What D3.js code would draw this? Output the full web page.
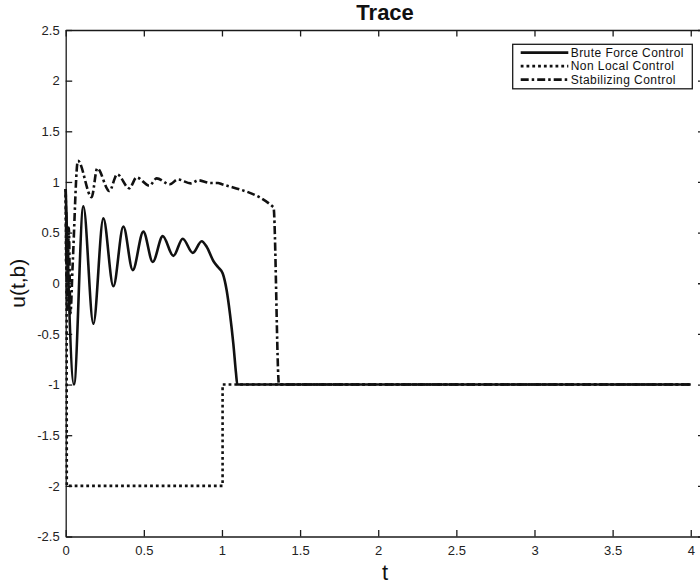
<!DOCTYPE html>
<html>
<head>
<meta charset="utf-8">
<script src="https://cdn.jsdelivr.net/npm/d3@7"></script>
<style>
  html, body { margin: 0; padding: 0; background: #fff; }
  svg { display: block; font-family: "Liberation Sans", Arial, Helvetica, sans-serif; }
</style>
</head>
<body>
<svg id="chart" width="700" height="585"></svg>
<script>
// Trace of u(t,b) for three control strategies
const xTicks = [0, 0.5, 1, 1.5, 2, 2.5, 3, 3.5, 4];
const yTicks = [-2.5, -2, -1.5, -1, -0.5, 0, 0.5, 1, 1.5, 2, 2.5];
const seriesNames = ["Brute Force Control", "Non Local Control", "Stabilizing Control"];

const bruteT = [0, 0.053, 0.113, 0.177, 0.241, 0.305, 0.369, 0.429, 0.497, 0.557, 0.621, 0.689, 0.749, 0.813, 0.870, 0.902, 0.945, 0.977, 1.005, 1.03, 1.051, 1.073, 1.09, 1.098, 4.0];
const bruteU = [0.93, -1.0, 0.76, -0.40, 0.64, -0.03, 0.56, 0.13, 0.51, 0.21, 0.465, 0.27, 0.44, 0.30, 0.415, 0.36, 0.22, 0.155, 0.096, -0.07, -0.30, -0.60, -0.89, -1.0, -1.0];

const nonLocalT = [0, 0.002, 0.004, 0.006, 0.007, 1.004, 1.004, 4.0];
const nonLocalU = [0.93, 0.2, 0.7, -0.3, -2.0, -2.0, -1.0, -1.0];

const stabT = [0, 0.01, 0.02, 0.03, 0.045, 0.078, 0.166, 0.202, 0.279, 0.33, 0.407, 0.454, 0.535, 0.582, 0.667, 0.717, 0.80, 0.849, 0.928, 0.975, 1.0, 1.33, 1.365, 4.0];
const stabU = [0.93, -0.25, 0.55, -0.3, 0.2, 1.21, 0.85, 1.135, 0.91, 1.075, 0.937, 1.045, 0.963, 1.035, 0.977, 1.025, 0.986, 1.016, 0.99, 0.99, 0.978, 0.75, -1.0, -1.0];

const svg = d3.select("#chart");
const plotLeft = 65.7, plotRight = 704.5, plotTop = 30, plotBottom = 536.5;

const x = d3.scaleLinear().domain([0, 4.088]).range([plotLeft, plotRight]);
const y = d3.scaleLinear().domain([-2.5, 2.5]).range([plotBottom, plotTop]);

const tickLen = 6.5;
const axisColor = "#1a1a1a";
const plain = d => String(d);   // hyphen-minus labels

// box axes, ticks pointing inward
const g = svg.append("g");
const xb = g.append("g").attr("transform", `translate(0,${plotBottom})`)
  .call(d3.axisBottom(x).tickValues(xTicks).tickSizeInner(-tickLen).tickSizeOuter(0).tickPadding(7).tickFormat(plain));
const xt = g.append("g").attr("transform", `translate(0,${plotTop})`)
  .call(d3.axisTop(x).tickValues(xTicks).tickSizeInner(-tickLen).tickSizeOuter(0).tickFormat(""));
const yl = g.append("g").attr("transform", `translate(${plotLeft},0)`)
  .call(d3.axisLeft(y).tickValues(yTicks).tickSizeInner(-tickLen).tickSizeOuter(0).tickPadding(6).tickFormat(plain));
const yr = g.append("g").attr("transform", `translate(${plotRight},0)`)
  .call(d3.axisRight(y).tickValues(yTicks).tickSizeInner(-tickLen).tickSizeOuter(0).tickFormat(""));

[xb, xt, yl, yr].forEach(a => {
  a.select(".domain").attr("stroke", axisColor).attr("stroke-width", 1.3);
  a.selectAll(".tick line").attr("stroke", axisColor).attr("stroke-width", 1.3);
  a.selectAll(".tick text").attr("fill", "#222").style("font-size", "13px")
    .style("font-family", "Liberation Sans, Arial, sans-serif");
});
xb.selectAll(".tick text").attr("dy", "0.85em");

// curves
const line = d3.line().x(d => x(d[0])).y(d => y(d[1]));
const zip = (a, b) => a.map((v, i) => [v, b[i]]);

const plot = svg.append("g");
plot.append("path")
  .datum(zip(nonLocalT, nonLocalU))
  .attr("d", line.curve(d3.curveLinear))
  .attr("fill", "none").attr("stroke", "#111").attr("stroke-width", 2.6)
  .attr("stroke-dasharray", "2.8,3");

plot.append("path")
  .datum(zip(stabT, stabU))
  .attr("d", line.curve(d3.curveMonotoneX))
  .attr("fill", "none").attr("stroke", "#111").attr("stroke-width", 2.6)
  .attr("stroke-dasharray", "8,3,2.5,3");

plot.append("path")
  .datum(zip(bruteT, bruteU))
  .attr("d", line.curve(d3.curveMonotoneX))
  .attr("fill", "none").attr("stroke", "#111").attr("stroke-width", 2.6);

// title and axis labels
svg.append("text").attr("x", (plotLeft + plotRight) / 2).attr("y", 20)
  .attr("text-anchor", "middle").style("font-size", "22px").style("font-weight", "bold")
  .attr("fill", "#111").text("Trace");

svg.append("text").attr("x", (plotLeft + plotRight) / 2).attr("y", 580)
  .attr("text-anchor", "middle").style("font-size", "22px").attr("fill", "#111").text("t");

svg.append("text").attr("transform", `translate(25,${y(0)}) rotate(-90)`)
  .attr("text-anchor", "middle").style("font-size", "21px").attr("fill", "#111").text("u(t,b)");

// legend
const leg = svg.append("g");
leg.append("rect").attr("x", 512.7).attr("y", 44.3).attr("width", 179.6).attr("height", 44.5)
  .attr("fill", "#fff").attr("stroke", axisColor).attr("stroke-width", 1.3);
const dashes = [null, "2.8,3", "8,3,2.5,3"];
seriesNames.forEach((name, i) => {
  const ly = 52.6 + i * 13.5;
  leg.append("line").attr("x1", 520.7).attr("x2", 568.3).attr("y1", ly).attr("y2", ly)
    .attr("stroke", "#111").attr("stroke-width", 2.6)
    .attr("stroke-dasharray", dashes[i]);
  leg.append("text").attr("x", 570.7).attr("y", ly).attr("dy", "0.35em")
    .style("font-size", "12px").style("letter-spacing", "0.45px")
    .attr("fill", "#111").text(name);
});
</script>
</body>
</html>
